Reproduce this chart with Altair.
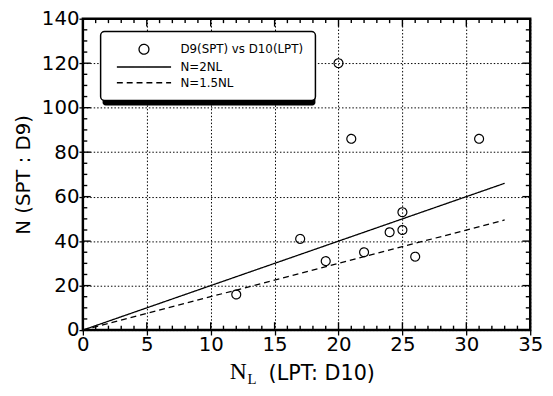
import altair as alt
import pandas as pd

# ---- data ----
nl = [12, 17, 19, 20, 21, 22, 24, 25, 25, 26, 31]
n_spt = [16, 41, 31, 120, 86, 35, 44, 45, 53, 33, 86]
series = ["D9(SPT) vs D10(LPT)", "N=2NL", "N=1.5NL"]
line_x = [0, 33]
line_2nl = [0, 66]
line_15nl = [0, 49.5]
x_major = [0, 5, 10, 15, 20, 25, 30, 35]
y_major = [0, 20, 40, 60, 80, 100, 120, 140]
x_ticks = list(range(0, 36))          # tick every 1 unit
y_ticks = list(range(0, 141, 5))      # tick every 5 units

W, H = 454, 316
FONT = "DejaVu Sans"

pts = pd.DataFrame({"x": nl, "y": n_spt, "s": series[0]})
solid = pd.DataFrame({"x": line_x, "y": line_2nl, "s": series[1]})
dashed = pd.DataFrame({"x": line_x, "y": line_15nl, "s": series[2]})
xt = pd.DataFrame({"x": x_ticks})
yt = pd.DataFrame({"y": y_ticks})

xs = alt.Scale(domain=[0, 35], nice=False, zero=False)
ys = alt.Scale(domain=[0, 140], nice=False, zero=False)

leg = alt.Legend(
    title=None, orient="none", legendX=18, legendY=13,
    fillColor="white", strokeColor="black", cornerRadius=4, padding=12,
    labelFont=FONT, labelFontSize=12, labelColor="black", labelOffset=31,
    symbolOffset=26,
    symbolSize=100, symbolStrokeWidth=1.3, symbolStrokeColor="black",
    symbolFillColor="transparent", symbolOpacity=1, rowPadding=4,
)
shape_enc = alt.Shape(
    "s:N",
    scale=alt.Scale(domain=series, range=["circle", "M-5.5,0L5.5,0", "M-5.5,0L5.5,0"]),
    legend=leg,
)
dash_enc = alt.StrokeDash(
    "s:N",
    scale=alt.Scale(domain=series, range=[[1, 0], [1, 0], [6, 4]]),
    legend=leg,
)

points = alt.Chart(pts).mark_point(
    filled=False, size=81, strokeWidth=1.2, color="black", opacity=1
).encode(
    x=alt.X("x:Q", scale=xs, axis=alt.Axis(
        orient="bottom", values=x_major, grid=True, gridDash=[1.5, 2],
        gridColor="black", gridWidth=1, ticks=True, tickSize=5,
        tickColor="black", tickWidth=1.3, domain=False,
        labelFont=FONT, labelFontSize=20, labelPadding=0, labelColor="black",
        labelFlush=False,
        title="(LPT: D10)", titleFont=FONT, titleFontSize=21,
        titleFontWeight="normal", titleColor="black", titleAlign="left",
        titleBaseline="alphabetic", titleX=188, titleY=50)),
    y=alt.Y("y:Q", scale=ys, axis=alt.Axis(
        orient="left", values=y_major, grid=True, gridDash=[1.5, 2],
        gridColor="black", gridWidth=1, ticks=True, tickSize=4,
        tickColor="black", tickWidth=1.3, domain=False,
        labelFont=FONT, labelFontSize=20, labelPadding=0, labelColor="black",
        labelFlush=False,
        title="N (SPT : D9)", titleFont=FONT, titleFontSize=20,
        titleFontWeight="normal", titleColor="black", titlePadding=8)),
    shape=shape_enc,
    strokeDash=dash_enc,
)

solid_line = alt.Chart(solid).mark_line(color="black", strokeWidth=1.3).encode(
    x=alt.X("x:Q", scale=xs), y=alt.Y("y:Q", scale=ys), strokeDash=dash_enc,
)
dashed_line = alt.Chart(dashed).mark_line(color="black", strokeWidth=1.3).encode(
    x=alt.X("x:Q", scale=xs), y=alt.Y("y:Q", scale=ys), strokeDash=dash_enc,
)

# inward tick marks on all four edges: short stroke symbols anchored on the frame
tick_mark = dict(filled=False, color="black", strokeWidth=1.4, opacity=1)
xsize = alt.condition("datum.x % 5 === 0", alt.value(64), alt.value(20))
ysize = alt.condition("datum.y % 20 === 0", alt.value(64), alt.value(20))
t_bottom = alt.Chart(xt).mark_point(**tick_mark).encode(
    x=alt.X("x:Q", scale=xs), y=alt.datum(0), size=xsize,
    shape=alt.value("M0,0L0,-2"))
t_top = alt.Chart(xt).mark_point(**tick_mark).encode(
    x=alt.X("x:Q", scale=xs), y=alt.datum(140), size=xsize,
    shape=alt.value("M0,0L0,2"))
t_left = alt.Chart(yt).mark_point(**tick_mark).encode(
    y=alt.Y("y:Q", scale=ys), x=alt.datum(0), size=ysize,
    shape=alt.value("M0,0L2,0"))
t_right = alt.Chart(yt).mark_point(**tick_mark).encode(
    y=alt.Y("y:Q", scale=ys), x=alt.datum(35), size=ysize,
    shape=alt.value("M0,0L-2,0"))

one = alt.Data(values=[{}])
shadow = alt.Chart(one).mark_rect(color="black", cornerRadius=3).encode(
    x=alt.value(20), x2=alt.value(236), y=alt.value(18), y2=alt.value(88)
)
t_n = alt.Chart(one).mark_text(
    font="Liberation Serif", fontSize=24, align="left", baseline="alphabetic", color="black"
).encode(x=alt.value(149), y=alt.value(366), text=alt.value("N"))
t_l = alt.Chart(one).mark_text(
    font="Liberation Serif", fontSize=15, align="left", baseline="alphabetic", color="black"
).encode(x=alt.value(167), y=alt.value(371), text=alt.value("L"))

chart = alt.layer(
    points, solid_line, dashed_line, t_bottom, t_top, t_left, t_right,
    shadow, t_n, t_l
).properties(
    width=W, height=H,
    autosize=alt.AutoSizeParams(type="none"),
    padding={"left": 76, "top": 8, "right": 15, "bottom": 62},
).configure_view(stroke="black", strokeWidth=2.5).configure_legend(strokeWidth=1.5)

chart.save("out.html", embed_options={"renderer": "svg", "actions": False})
